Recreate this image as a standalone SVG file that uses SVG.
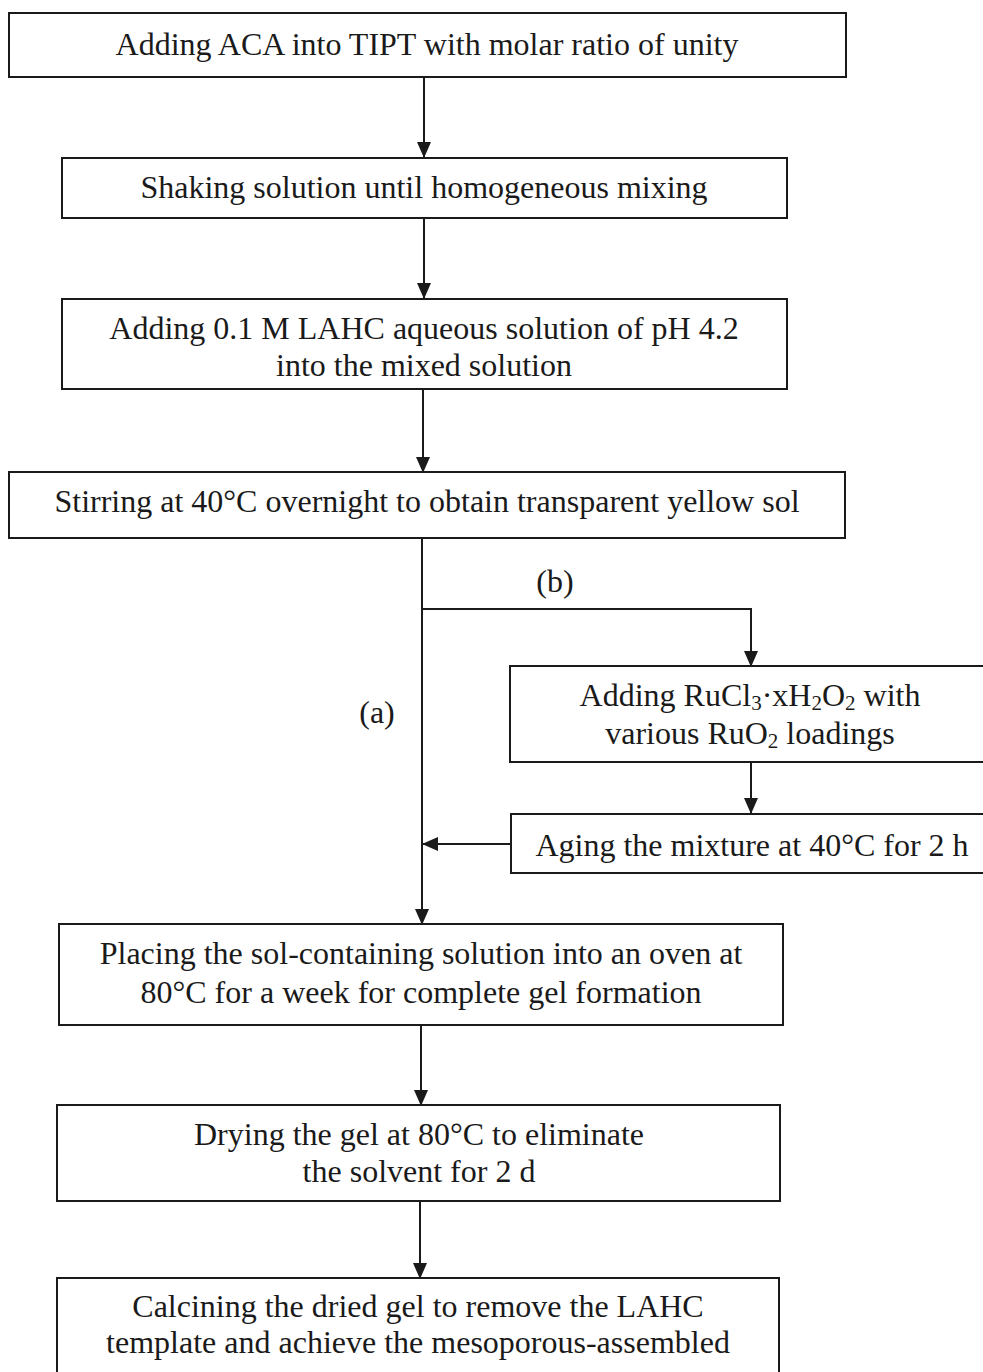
<svg xmlns="http://www.w3.org/2000/svg" width="983" height="1372" viewBox="0 0 983 1372">
<style>
.box{fill:#fff;stroke:#1a1a1a;stroke-width:2}
.t{font-family:"Liberation Serif","Times New Roman",serif;font-size:32px;fill:#1a1a1a;text-anchor:middle}
.s{font-size:21px}
.c{fill:none;stroke:#1a1a1a;stroke-width:2}
</style>
<defs>
<marker id="ah" markerUnits="userSpaceOnUse" markerWidth="16" markerHeight="18" viewBox="0 0 16 18" refX="15" refY="9" orient="auto">
<path d="M0,2 L16,9 L0,16 Z" fill="#1a1a1a"/>
</marker>
</defs>
<rect width="983" height="1372" fill="#fff"/>
<g id="connectors">
<line class="c" x1="424" y1="78" x2="424" y2="157" marker-end="url(#ah)"/>
<line class="c" x1="424" y1="219" x2="424" y2="298" marker-end="url(#ah)"/>
<line class="c" x1="423" y1="390" x2="423" y2="472" marker-end="url(#ah)"/>
<line class="c" x1="422" y1="539" x2="422" y2="924" marker-end="url(#ah)"/>
<polyline class="c" points="422,609 751,609 751,666" marker-end="url(#ah)"/>
<line class="c" x1="751" y1="763" x2="751" y2="813" marker-end="url(#ah)"/>
<line class="c" x1="511" y1="844" x2="423" y2="844" marker-end="url(#ah)"/>
<line class="c" x1="421" y1="1026" x2="421" y2="1105" marker-end="url(#ah)"/>
<line class="c" x1="420" y1="1202" x2="420" y2="1278" marker-end="url(#ah)"/>
<text class="t" x="555" y="592">(b)</text>
<text class="t" x="377" y="723">(a)</text>
</g>
<g id="n1">
<rect class="box" x="9" y="13" width="837" height="64"/>
<text class="t" x="427" y="55">Adding ACA into TIPT with molar ratio of unity</text>
</g>
<g id="n2">
<rect class="box" x="62" y="158" width="725" height="60"/>
<text class="t" x="424" y="198">Shaking solution until homogeneous mixing</text>
</g>
<g id="n3">
<rect class="box" x="62" y="299" width="725" height="90"/>
<text class="t" x="424" y="339">Adding 0.1 M LAHC aqueous solution of pH 4.2</text>
<text class="t" x="424" y="376">into the mixed solution</text>
</g>
<g id="n4">
<rect class="box" x="9" y="472" width="836" height="66"/>
<text class="t" x="427" y="512">Stirring at 40°C overnight to obtain transparent yellow sol</text>
</g>
<g id="n5">
<rect class="box" x="510" y="666" width="485" height="96"/>
<text class="t" x="750" y="706">Adding RuCl<tspan class="s" dy="4">3</tspan><tspan dy="-4">·xH</tspan><tspan class="s" dy="4">2</tspan><tspan dy="-4">O</tspan><tspan class="s" dy="4">2</tspan><tspan dy="-4"> with</tspan></text>
<text class="t" x="750" y="744">various RuO<tspan class="s" dy="4">2</tspan><tspan dy="-4"> loadings</tspan></text>
</g>
<g id="n6">
<rect class="box" x="511" y="814" width="484" height="59"/>
<text class="t" x="752" y="856">Aging the mixture at 40°C for 2 h</text>
</g>
<g id="n7">
<rect class="box" x="59" y="924" width="724" height="101"/>
<text class="t" x="421" y="964">Placing the sol-containing solution into an oven at</text>
<text class="t" x="421" y="1003">80°C for a week for complete gel formation</text>
</g>
<g id="n8">
<rect class="box" x="57" y="1105" width="723" height="96"/>
<text class="t" x="419" y="1145">Drying the gel at 80°C to eliminate</text>
<text class="t" x="419" y="1182">the solvent for 2 d</text>
</g>
<g id="n9">
<rect class="box" x="57" y="1278" width="722" height="110"/>
<text class="t" x="418" y="1317">Calcining the dried gel to remove the LAHC</text>
<text class="t" x="418" y="1353">template and achieve the mesoporous-assembled</text>
</g>
</svg>
